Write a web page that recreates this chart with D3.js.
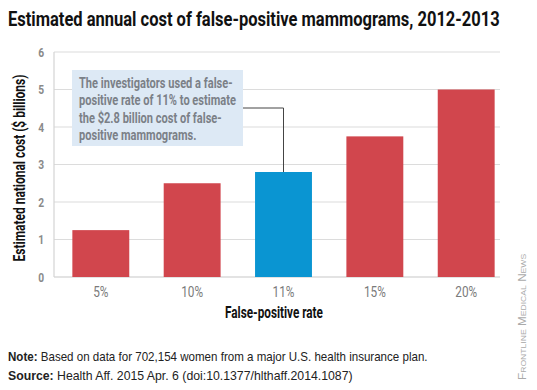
<!DOCTYPE html>
<html>
<head>
<meta charset="utf-8">
<script src="https://cdn.jsdelivr.net/npm/d3@7"></script>
<style>
  body { margin: 0; background: #fff; }
  svg { display: block; }
</style>
</head>
<body>
<div id="chart"></div>
<script>
// chart data
var rate_labels = ['5%', '10%', '11%', '15%', '20%'];
var cost_values = [1.25, 2.5, 2.8, 3.75, 5.0];
var highlight_label = '11%';
var y_ticks = [0, 1, 2, 3, 4, 5, 6];
var note_lines = [
  ['Note:', ' Based on data for 702,154 women from a major U.S. health insurance plan.'],
  ['Source:', ' Health Aff. 2015 Apr. 6 (doi:10.1377/hlthaff.2014.1087)']
];
var callout_lines = [
  'The investigators used a false-',
  'positive rate of 11% to estimate',
  'the $2.8 billion cost of false-',
  'positive mammograms.'
];

var chart_app = (function () {
  var width = 537, height = 390;
  var plot = { left: 54, right: 500, top: 52, bottom: 277 };
  var red = '#d1464d', blue = '#0a95d2';
  var cond = 'Roboto, "DejaVu Sans", sans-serif';
  var plain = '"Liberation Sans", Arial, sans-serif';

  // squeeze a text horizontally so it spans target px (fake condensed face)
  function squeeze(g, text_node, target, pre) {
    var w = text_node.getComputedTextLength();
    var k = target / w;
    g.attr('transform', pre + ' scale(' + k + ',1)');
    return k;
  }

  function draw() {
    var svg = d3.select('#chart').append('svg')
      .attr('width', width).attr('height', height);

    var x = d3.scaleBand()
      .domain(rate_labels)
      .range([55, 512])
      .paddingInner(0.377)
      .paddingOuter(0.19);

    var y = d3.scaleLinear().domain([0, 6]).range([plot.bottom, plot.top]);

    // title
    var tg = svg.append('g');
    var tt = tg.append('text')
      .attr('font-family', cond).attr('font-weight', 'bold')
      .attr('font-size', 21).attr('fill', '#111')
      .text('Estimated annual cost of false-positive mammograms, 2012-2013');
    var k_cond = squeeze(tg, tt.node(), 492, 'translate(8,26)');

    // gridlines
    svg.append('g').selectAll('line')
      .data(y_ticks).enter().append('line')
      .attr('x1', plot.left).attr('x2', plot.right)
      .attr('y1', function (d) { return y(d); })
      .attr('y2', function (d) { return y(d); })
      .attr('stroke', function (d) { return d === 0 ? '#c8c8c8' : '#dcdcdc'; })
      .attr('stroke-width', 1.2);

    svg.append('line')
      .attr('x1', plot.left).attr('x2', plot.left)
      .attr('y1', plot.top).attr('y2', plot.bottom)
      .attr('stroke', '#d4d4d4').attr('stroke-width', 1.2);

    // y tick labels
    svg.append('g').selectAll('g')
      .data(y_ticks).enter().append('g')
      .attr('transform', function (d) { return 'translate(44,' + (y(d) + 4.5) + ') scale(' + k_cond + ',1)'; })
      .append('text')
      .attr('text-anchor', 'end')
      .attr('font-family', cond).attr('font-weight', 'bold')
      .attr('font-size', 13).attr('fill', '#8a8a8a')
      .text(function (d) { return d; });

    // bars
    svg.append('g').selectAll('rect')
      .data(rate_labels).enter().append('rect')
      .attr('x', function (d) { return x(d); })
      .attr('width', x.bandwidth())
      .attr('y', function (d, i) { return y(cost_values[i]); })
      .attr('height', function (d, i) { return y(0) - y(cost_values[i]); })
      .attr('fill', function (d) { return d === highlight_label ? blue : red; });

    // x tick labels
    svg.append('g').selectAll('g')
      .data(rate_labels).enter().append('g')
      .attr('transform', function (d) {
        return 'translate(' + (x(d) + x.bandwidth() / 2) + ',297) scale(' + k_cond + ',1)';
      })
      .append('text')
      .attr('text-anchor', 'middle')
      .attr('font-family', cond)
      .attr('font-size', 15).attr('fill', '#7a7a7a')
      .text(function (d) { return d; });

    // axis titles
    var xg = svg.append('g');
    var xt = xg.append('text')
      .attr('text-anchor', 'middle')
      .attr('font-family', cond).attr('font-weight', 'bold')
      .attr('font-size', 16).attr('fill', '#111')
      .text('False-positive rate');
    squeeze(xg, xt.node(), 98, 'translate(274,318)');

    var yg = svg.append('g');
    var yt = yg.append('text')
      .attr('text-anchor', 'middle')
      .attr('font-family', cond).attr('font-weight', 'bold')
      .attr('font-size', 16.5).attr('fill', '#111')
      .text('Estimated national cost ($ billions)');
    squeeze(yg, yt.node(), 187, 'translate(25,168) rotate(-90)');

    // callout
    var hi_index = rate_labels.indexOf(highlight_label);
    var hx = x(highlight_label) + x.bandwidth() / 2;
    svg.append('polyline')
      .attr('points', [[243, 108], [hx, 108], [hx, y(cost_values[hi_index])]].join(' '))
      .attr('fill', 'none').attr('stroke', '#444').attr('stroke-width', 1);

    svg.append('rect')
      .attr('x', 72).attr('y', 70).attr('width', 171).attr('height', 76)
      .attr('fill', '#dde9f5');

    var cg = svg.append('g');
    var ct = cg.selectAll('text')
      .data(callout_lines).enter().append('text')
      .attr('x', 0).attr('y', function (d, i) { return i * 17.5; })
      .attr('font-family', cond).attr('font-weight', 'bold')
      .attr('font-size', 14).attr('fill', '#7b8087')
      .text(function (d) { return d; });
    squeeze(cg, ct.nodes()[1], 157, 'translate(79,88)');

    // notes
    note_lines.forEach(function (line, i) {
      var ng = svg.append('g');
      var nt = ng.append('text')
        .attr('font-family', plain)
        .attr('font-size', 12.5).attr('fill', '#222');
      nt.append('tspan').attr('font-weight', 'bold').text(line[0]);
      nt.append('tspan').text(line[1]);
      squeeze(ng, nt.node(), i === 0 ? 420 : 345, 'translate(8,' + (361 + i * 19) + ')');
    });

    // credit
    var fg = svg.append('g');
    var ft = fg.append('text')
      .attr('font-family', plain)
      .attr('font-size', 10).attr('fill', '#aaa')
      .attr('font-variant', 'small-caps')
      .text('Frontline Medical News');
    squeeze(fg, ft.node(), 122, 'translate(526,380) rotate(-90)');
  }

  return { 'draw': draw };
}());

chart_app.draw();
</script>
</body>
</html>
